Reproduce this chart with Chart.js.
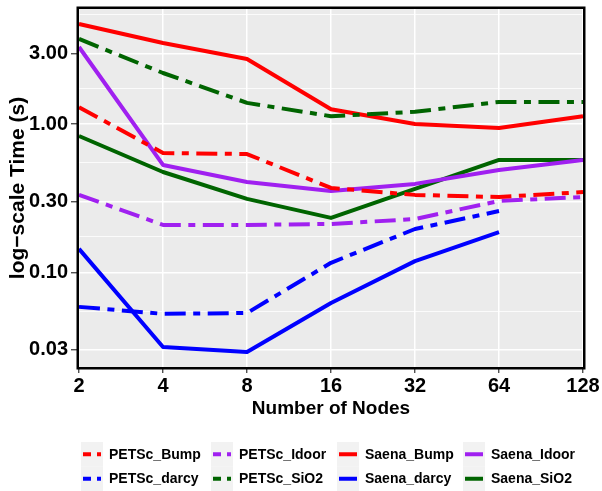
<!DOCTYPE html>
<html>
<head>
<meta charset="utf-8">
<script src="https://cdn.jsdelivr.net/npm/chart.js@4/dist/chart.umd.min.js"></script>
<style>
  html, body { margin: 0; padding: 0; background: #ffffff; }
  #wrap { width: 602px; height: 491px; position: relative; }
</style>
</head>
<body>
<div id="wrap"><canvas id="c" width="602" height="491"></canvas></div>
<script>
// Node counts on the x axis
const nodes = ['2', '4', '8', '16', '32', '64', '128'];

// Run times in seconds
const petscBump  = [1.30, 0.638, 0.628, 0.371, 0.333, 0.322, 0.348];
const petscDarcy = [0.0585, 0.0525, 0.0532, 0.116, 0.196, 0.259, null];
const petscIdoor = [0.333, 0.209, 0.209, 0.212, 0.229, 0.303, 0.322];
const petscSiO2  = [3.75, 2.21, 1.39, 1.13, 1.21, 1.41, 1.41];
const saenaBump  = [4.73, 3.52, 2.75, 1.26, 1.00, 0.94, 1.13];
const saenaDarcy = [0.144, 0.0314, 0.0290, 0.0622, 0.119, 0.187, null];
const saenaIdoor = [3.31, 0.530, 0.407, 0.354, 0.395, 0.490, 0.573];
const saenaSiO2  = [0.831, 0.475, 0.313, 0.233, 0.365, 0.573, 0.573];

// Labelled y breaks and the unlabelled ones halfway between them (log space)
const majorTicks = [0.03, 0.10, 0.30, 1.00, 3.00];
const minorTicks = [0.0548, 0.1732, 0.5477, 1.732, 5.477];

const RED = '#FF0000', BLUE = '#0000FF', PURPLE = '#A020F0', GREEN = '#006400';
const DOTDASH = [21, 7.5, 7, 7.5];
const KEY_DOTDASH = [8, 6, 4, 6];
const FONT = "'Liberation Sans', Arial, Helvetica, sans-serif";

function series(label, data, color, dashed) {
  return {
    label, data,
    borderColor: color,
    backgroundColor: color,
    borderWidth: 4,
    borderDash: dashed ? DOTDASH : [],
    borderCapStyle: 'butt',
    borderJoinStyle: 'round',
    pointRadius: 0,
    pointHoverRadius: 0,
    tension: 0,
    spanGaps: false,
    fill: false,
    dashedKey: dashed
  };
}

const isMajor = v => majorTicks.some(m => Math.abs(m - v) / m < 1e-6);

// grey panel behind the data
const panelBg = {
  id: 'panelBg',
  beforeDraw(chart) {
    const { ctx, chartArea: a } = chart;
    ctx.save();
    ctx.fillStyle = '#EBEBEB';
    ctx.fillRect(a.left, a.top, a.right - a.left, a.bottom - a.top);
    ctx.restore();
  }
};

// black frame around the panel, on top of the lines
const panelBorder = {
  id: 'panelBorder',
  afterDatasetsDraw(chart) {
    const { ctx, chartArea: a } = chart;
    ctx.save();
    ctx.strokeStyle = '#000000';
    ctx.lineWidth = 2.5;
    ctx.strokeRect(a.left - 1.25, a.top - 1.25, a.right - a.left + 2.5, a.bottom - a.top + 2.5);
    ctx.restore();
  }
};

// four-column legend under the x axis, filled column by column
const keyLegend = {
  id: 'keyLegend',
  afterDraw(chart) {
    const ctx = chart.ctx;
    const colX = [81, 211, 337, 463];
    const rowY = [454.25, 478.75];
    ctx.save();
    chart.data.datasets.forEach((ds, i) => {
      const bx = colX[Math.floor(i / 2)];
      const cy = rowY[i % 2];
      ctx.fillStyle = '#F2F2F2';
      ctx.fillRect(bx, cy - 12.25, 22, 24.5);
      ctx.beginPath();
      ctx.setLineDash(ds.dashedKey ? KEY_DOTDASH : []);
      ctx.lineCap = 'butt';
      ctx.strokeStyle = ds.borderColor;
      ctx.lineWidth = 4;
      ctx.moveTo(bx + 2, cy);
      ctx.lineTo(bx + 20, cy);
      ctx.stroke();
      ctx.setLineDash([]);
      ctx.fillStyle = '#000000';
      ctx.font = 'bold 14px ' + FONT;
      ctx.textBaseline = 'middle';
      ctx.textAlign = 'left';
      ctx.fillText(ds.label, bx + 28, cy + 0.5);
    });
    ctx.restore();
  }
};

new Chart(document.getElementById('c'), {
  type: 'line',
  data: {
    labels: nodes,
    datasets: [
      series('PETSc_Bump', petscBump, RED, true),
      series('PETSc_darcy', petscDarcy, BLUE, true),
      series('PETSc_Idoor', petscIdoor, PURPLE, true),
      series('PETSc_SiO2', petscSiO2, GREEN, true),
      series('Saena_Bump', saenaBump, RED, false),
      series('Saena_darcy', saenaDarcy, BLUE, false),
      series('Saena_Idoor', saenaIdoor, PURPLE, false),
      series('Saena_SiO2', saenaSiO2, GREEN, false)
    ]
  },
  options: {
    responsive: false,
    animation: false,
    devicePixelRatio: 1,
    layout: { padding: { left: 0, right: 19, top: 9, bottom: 64 } },
    plugins: {
      legend: { display: false },
      tooltip: { enabled: false }
    },
    scales: {
      x: {
        type: 'category',
        offset: false,
        border: { display: false },
        grid: {
          color: '#FFFFFF',
          lineWidth: 1.5,
          drawTicks: true,
          tickLength: 6,
          tickColor: '#333333',
          tickWidth: 1.2
        },
        ticks: {
          color: '#000000',
          font: { family: FONT, size: 20, weight: 'bold' },
          padding: 1,
          maxRotation: 0,
          autoSkip: false
        },
        title: {
          display: true,
          text: 'Number of Nodes',
          color: '#000000',
          font: { family: FONT, size: 19, weight: 'bold', lineHeight: 1.2 },
          padding: { top: 0, bottom: 6.6 }
        },
        afterFit(scale) {
          scale.height = 60;
          scale.paddingLeft = 0;
          scale.paddingRight = 0;
        }
      },
      y: {
        type: 'logarithmic',
        min: 0.0230,
        max: 5.97,
        border: { display: false },
        afterBuildTicks(scale) {
          scale.ticks = majorTicks.concat(minorTicks)
            .sort((a, b) => a - b)
            .map(v => ({ value: v, major: isMajor(v) }));
        },
        grid: {
          color: '#FFFFFF',
          lineWidth: ctx => (ctx.tick && ctx.tick.major) ? 1.5 : 0.8,
          drawTicks: true,
          tickLength: 8,
          tickColor: ctx => (ctx.tick && ctx.tick.major) ? '#333333' : 'rgba(0,0,0,0)',
          tickWidth: 1.2
        },
        ticks: {
          color: '#000000',
          font: { family: FONT, size: 20, weight: 'bold' },
          padding: 3,
          autoSkip: false,
          callback: v => isMajor(v) ? Number(v).toFixed(2) : ''
        },
        title: {
          display: true,
          text: 'log\u2212scale Time (s)',
          color: '#000000',
          font: { family: FONT, size: 21, weight: 'bold', lineHeight: 1.2 },
          padding: { top: 5.4, bottom: 0 }
        },
        afterFit(scale) {
          scale.width = 79;
          scale.paddingTop = 0;
          scale.paddingBottom = 0;
        }
      }
    }
  },
  plugins: [panelBg, panelBorder, keyLegend]
});
</script>
</body>
</html>
